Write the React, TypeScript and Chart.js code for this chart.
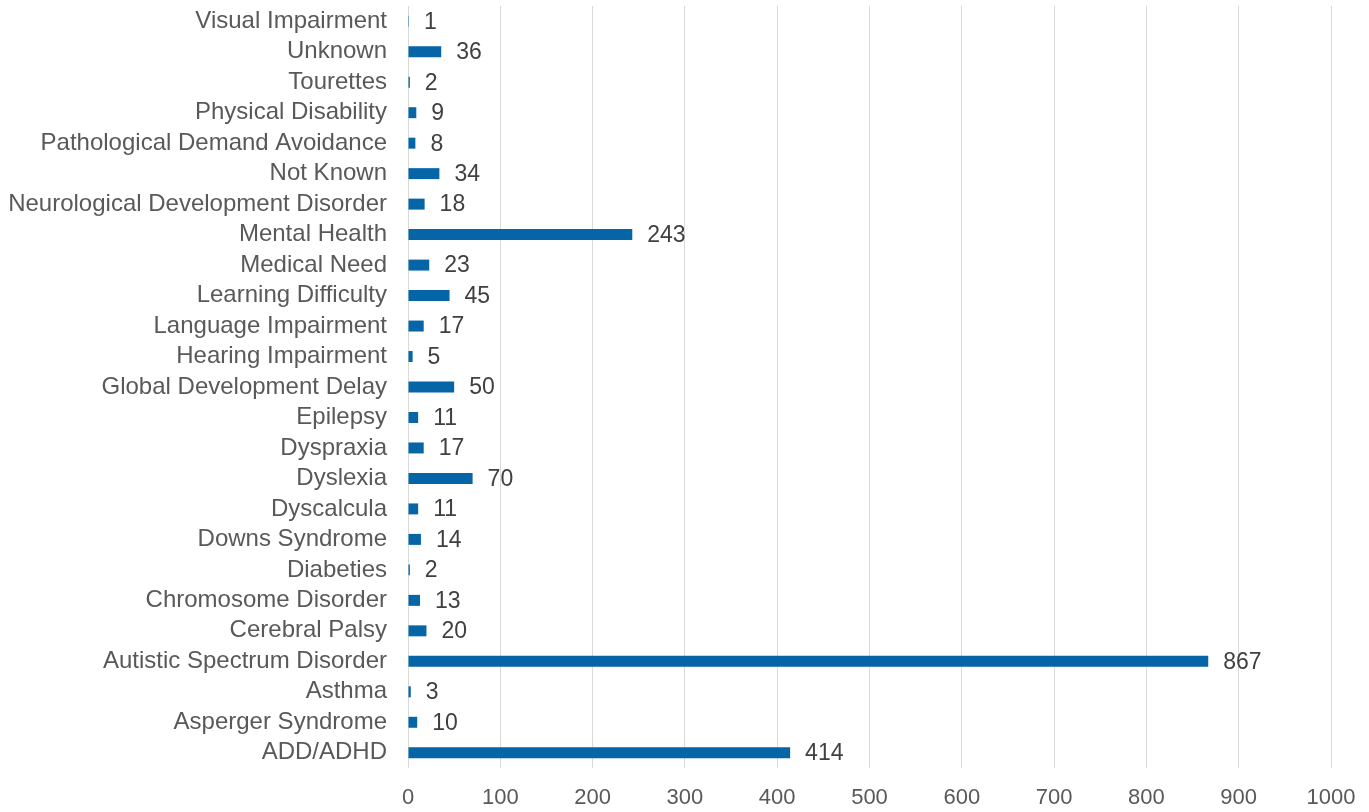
import React, { useEffect, useRef } from "react";
import { Chart, registerables } from "chart.js";

Chart.register(...registerables);

const categories = [
  "Visual Impairment",
  "Unknown",
  "Tourettes",
  "Physical Disability",
  "Pathological Demand Avoidance",
  "Not Known",
  "Neurological Development Disorder",
  "Mental Health",
  "Medical Need",
  "Learning Difficulty",
  "Language Impairment",
  "Hearing Impairment",
  "Global Development Delay",
  "Epilepsy",
  "Dyspraxia",
  "Dyslexia",
  "Dyscalcula",
  "Downs Syndrome",
  "Diabeties",
  "Chromosome Disorder",
  "Cerebral Palsy",
  "Autistic Spectrum Disorder",
  "Asthma",
  "Asperger Syndrome",
  "ADD/ADHD",
];

const counts = [1, 36, 2, 9, 8, 34, 18, 243, 23, 45, 17, 5, 50, 11, 17, 70, 11, 14, 2, 13, 20, 867, 3, 10, 414];

const xMin = 0;
const xMax = 1000;
const xStep = 100;

const FONT = "'Liberation Sans', Arial, sans-serif";
const TEXT = "#595959";

const valueLabels = {
  id: "valueLabels",
  afterDatasetsDraw(chart: any) {
    const ctx = chart.ctx;
    const meta = chart.getDatasetMeta(0);
    ctx.save();
    ctx.font = `23px ${FONT}`;
    ctx.fillStyle = "#404040";
    ctx.textAlign = "left";
    ctx.textBaseline = "middle";
    meta.data.forEach((bar: any, i: number) => {
      ctx.fillText(String(counts[i]), bar.x + 15, bar.y + 1);
    });
    ctx.restore();
  },
};

export default function App() {
  const ref = useRef<HTMLCanvasElement>(null);
  useEffect(() => {
    document.body.style.margin = "0";
    const chart = new Chart(ref.current!, {
      type: "bar",
      data: {
        labels: categories,
        datasets: [
          {
            data: counts,
            backgroundColor: "#0565A6",
            borderWidth: 0,
            barPercentage: 0.72,
            categoryPercentage: 0.5,
          },
        ],
      },
      options: {
        indexAxis: "y",
        animation: false,
        responsive: false,
        maintainAspectRatio: false,
        layout: { padding: { top: 6, right: 38, left: 0, bottom: 0 } },
        plugins: { legend: { display: false }, tooltip: { enabled: false } },
        scales: {
          x: {
            min: xMin,
            max: xMax,
            ticks: {
              stepSize: xStep,
              color: TEXT,
              font: { size: 22, family: FONT },
              padding: 17,
              maxRotation: 0,
              callback: (v: any) => String(v),
            },
            grid: { color: "#d9d9d9", lineWidth: 1, drawTicks: false },
            border: { display: false },
            afterFit(scale: any) {
              scale.height = 44;
              scale.paddingLeft = 0;
              scale.paddingRight = 0;
            },
          },
          y: {
            ticks: {
              color: TEXT,
              font: { size: 24, family: FONT },
              padding: 21,
              autoSkip: false,
            },
            grid: { display: false, drawTicks: false },
            border: { display: false },
            afterFit(scale: any) {
              scale.width = 408;
              scale.paddingTop = 0;
              scale.paddingBottom = 0;
            },
          },
        },
      },
      plugins: [valueLabels],
    });
    return () => chart.destroy();
  }, []);
  return <canvas ref={ref} width={1369} height={812} style={{ display: "block" }} />;
}
